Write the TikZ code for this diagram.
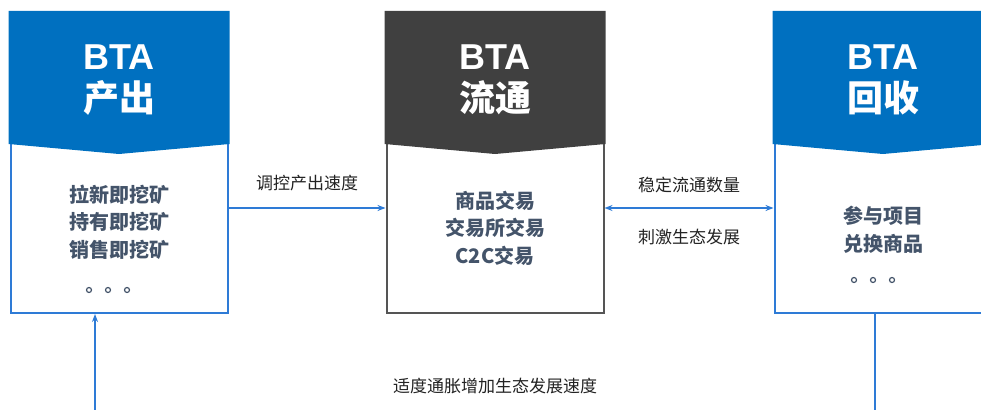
\documentclass[tikz,border=0pt]{standalone}
\usepackage{fontspec}
\setmainfont{Liberation Sans}
\newfontfamily\cjk{Noto Sans CJK SC}
\usetikzlibrary{arrows.meta, positioning}

\definecolor{hdblue}{HTML}{0070C0}
\definecolor{lnblue}{HTML}{2E7BD6}
\definecolor{hdgrey}{HTML}{404040}
\definecolor{bdgrey}{HTML}{555555}
\definecolor{txtgrey}{HTML}{44546A}
\definecolor{lbltext}{HTML}{222222}

\tikzset{
  stagebox/.style={draw=#1, line width=2pt, minimum width=217pt, minimum height=300pt, inner sep=0pt},
  headtext/.style={text=white, font=\fontsize{36}{44}\selectfont\bfseries, align=center},
  bodytext/.style={text=txtgrey, font=\cjk\fontsize{20}{27.5}\selectfont\bfseries, align=center},
  lbl/.style={text=lbltext, font=\cjk\fontsize{17}{20}\selectfont},
  link/.style={lnblue, line width=1.6pt},
  tip/.style={-{Stealth[length=8pt,width=6pt]}},
  dot/.style={circle, draw=txtgrey, line width=1.2pt, minimum size=5pt, inner sep=0pt}
}

\begin{document}
\begin{tikzpicture}[x=1pt, y=-1pt]
\useasboundingbox (0,0) rectangle (981,409);

%Stages
\foreach \nm/\x/\col/\bd/\ttl in {chu/119/hdblue/lnblue/产出, liu/495/hdgrey/bdgrey/流通, hui/883/hdblue/lnblue/回收}{
  \node[stagebox=\bd] (\nm) at (\x,163) {};
  \fill[\col] ([xshift=-1pt, yshift=1pt]\nm.north west) -- ([xshift=1pt, yshift=1pt]\nm.north east)
    -- ([xshift=1pt, yshift=-132pt]\nm.north east) -- ([yshift=-142pt]\nm.north)
    -- ([xshift=-1pt, yshift=-132pt]\nm.north west) -- cycle;
  \node[headtext] (\nm-t) at ([yshift=-68pt]\nm.north) {BTA\\[-2pt]{\cjk \ttl}};
}

%%Contents
\node[bodytext] (chu-b) at (119,222) {拉新即挖矿\\持有即挖矿\\销售即挖矿};
\node[bodytext] (liu-b) at (495,228) {商品交易\\交易所交易\\C2C交易};
\node[bodytext] (hui-b) at (883,230) {参与项目\\兑换商品};
\foreach \dx in {-19,0,19}{
  \node[dot] (chu-d\dx) at (108+\dx,290) {};
  \node[dot] (hui-d\dx) at (873+\dx,280) {};
}

%Flows
\draw[link, tip] ([yshift=-45pt]chu.east) -- ([yshift=-45pt]liu.west)
  node[lbl, midway, yshift=25pt] (l1) {调控产出速度};
\draw[link, {Stealth[length=8pt,width=6pt]}-{Stealth[length=8pt,width=6pt]}] ([yshift=-45pt]liu.east) -- ([yshift=-45pt]hui.west)
  node[lbl, midway, yshift=23pt] (l2) {稳定流通数量}
  node[lbl, midway, yshift=-29pt] (l3) {刺激生态发展};

\coordinate (low) at (495,411);
\draw[link, tip] ([xshift=-8pt]hui.south) |- (low) -| ([xshift=-24pt]chu.south);
\node[lbl] (l4) at (495,386) {适度通胀增加生态发展速度};
\end{tikzpicture}
\end{document}
